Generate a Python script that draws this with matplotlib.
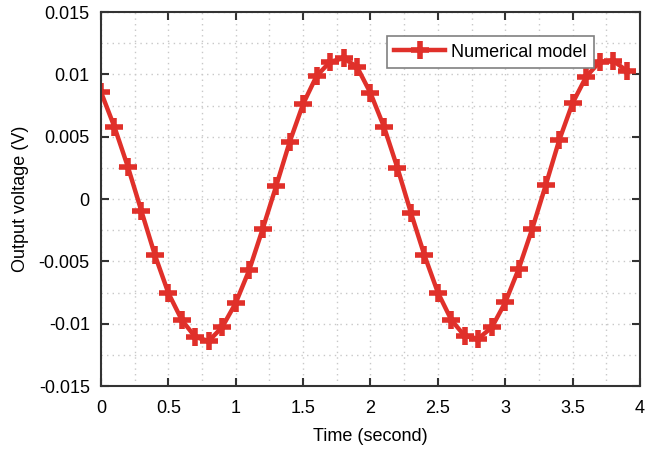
import numpy as np
from matplotlib import pyplot as plt
from matplotlib.ticker import MultipleLocator

plt.rcParams['font.family'] = ['Liberation Sans', 'DejaVu Sans']

# Sampled output of the numerical model, every 0.1 s
time_s = [0.0, 0.1, 0.2, 0.3, 0.4, 0.5, 0.6, 0.7, 0.8, 0.9,
          1.0, 1.1, 1.2, 1.3, 1.4, 1.5, 1.6, 1.7, 1.8, 1.9,
          2.0, 2.1, 2.2, 2.3, 2.4, 2.5, 2.6, 2.7, 2.8, 2.9,
          3.0, 3.1, 3.2, 3.3, 3.4, 3.5, 3.6, 3.7, 3.8, 3.9]
voltage = [0.00858, 0.00578, 0.00257, -0.00096, -0.00449, -0.00754, -0.00971, -0.01107, -0.01139, -0.01027,
           -0.00834, -0.0057, -0.0024, 0.00104, 0.00457, 0.00762, 0.00987, 0.0110, 0.0113, 0.0106,
           0.0085, 0.0058, 0.0025, -0.0011, -0.0045, -0.0075, -0.0097, -0.0110, -0.0112, -0.0103,
           -0.0083, -0.0056, -0.0024, 0.0011, 0.0047, 0.0077, 0.0098, 0.0110, 0.0111, 0.0103]

x_ticks = [0, 0.5, 1, 1.5, 2, 2.5, 3, 3.5, 4]
x_labels = ['0', '0.5', '1', '1.5', '2', '2.5', '3', '3.5', '4']
y_ticks = [-0.015, -0.01, -0.005, 0, 0.005, 0.01, 0.015]
y_labels = ['-0.015', '-0.01', '-0.005', '0', '0.005', '0.01', '0.015']

red = '#e0302a'

fig = plt.figure(figsize=(6.46, 4.5), dpi=100)
ax = fig.add_axes([0.1563, 0.1422, 0.8344, 0.8311])

ax.plot(time_s, voltage, color=red, lw=3.2, marker='+', ms=13, mew=4,
        label='Numerical model')

ax.set_xlim(0, 4)
ax.set_ylim(-0.015, 0.015)
ax.set_xticks(x_ticks)
ax.set_xticklabels(x_labels)
ax.set_yticks(y_ticks)
ax.set_yticklabels(y_labels)
ax.xaxis.set_minor_locator(MultipleLocator(0.25))
ax.yaxis.set_minor_locator(MultipleLocator(0.0025))

ax.grid(which='both', color='#c8c8c8', ls=(0, (1, 3)), lw=1)
ax.tick_params(which='major', direction='in', top=True, right=True,
               length=6, width=1.5, color='#333333', labelsize=13)
ax.tick_params(axis='x', pad=10)
ax.tick_params(axis='y', pad=8)
ax.tick_params(which='minor', length=0)
for s in ax.spines.values():
    s.set_color('#333333')
    s.set_linewidth(1.5)

ax.set_xlabel('Time (second)', fontsize=13, labelpad=8)
ax.set_ylabel('Output voltage (V)', fontsize=13, labelpad=7)

leg = ax.legend(loc='upper right', bbox_to_anchor=(0.915, 0.935), fontsize=13,
                fancybox=False, edgecolor='#808080', framealpha=1, borderaxespad=0,
                handlelength=2.8, handletextpad=0.35, borderpad=0.4)
leg.get_frame().set_linewidth(1.2)

plt.savefig('out.png', dpi=100)
plt.close()
